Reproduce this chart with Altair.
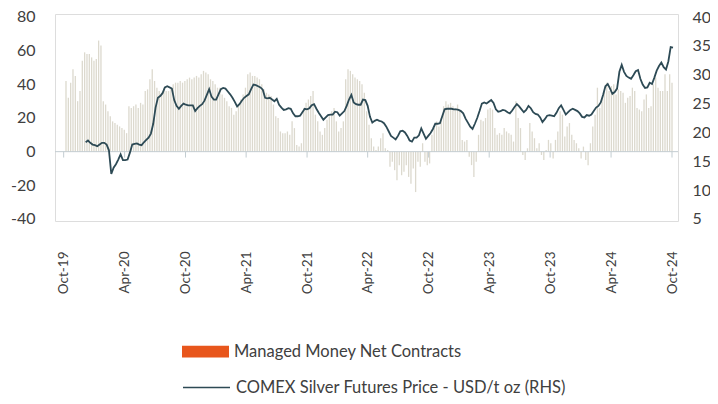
import altair as alt
import pandas as pd

# Managed money net positions (thousand contracts), weekly from 2019-10-08
net_contracts = [
    42, 32, 41, 49, 45, 30, 36, 54, 59, 58, 58, 56, 54, 55, 66, 63, 30, 28, 24, 21,
    18, 17, 16, 15, 14, 13, 11, 27, 26, 27, 28, 26, 29, 28, 36, 37, 43, 49, 42, 38,
    36, 35, 38, 36, 36, 38, 40, 41, 41, 42, 41, 42, 43, 44, 43, 44, 45, 44, 46, 48,
    47, 46, 43, 42, 40, 38, 38, 34, 32, 30, 27, 26, 22, 24, 28, 31, 34, 38, 46, 47,
    45, 45, 44, 43, 40, 37, 35, 34, 33, 28, 21, 20, 12, 11, 11, 12, 10, 18, 14, 4,
    3, 5, 26, 29, 31, 33, 36, 22, 18, 12, 10, 14, 19, 21, 24, 26, 18, 12, 14, 18,
    43, 49, 48, 46, 44, 43, 42, 40, 35, 24, 16, 8, 3, 1, 3, 8, 11, 2, 1, -9,
    -6, -11, -17, -8, -14, -12, -8, -15, -19, -10, -24, -6, -9, 5, -6, -8, -7, 10, 14, 18,
    15, 20, 27, 30, 28, 29, 27, 26, 28, 24, 7, 6, 7, -3, -8, -15, -6, 10, 19, 18,
    20, 25, 26, 25, 14, 10, 11, 10, 14, 12, 11, 10, 6, 30, 20, 14, -2, -5, 2, 17,
    12, 8, 2, 5, -2, -5, 1, 7, 5, -4, 7, 12, 24, 22, 9, 15, 17, 10, 7, 5,
    2, -4, 3, -5, -8, 5, 15, 22, 38, 26, 32, 36, 41, 36, 39, 40, 34, 37, 36, 35,
    29, 32, 33, 38, 36, 26, 25, 24, 31, 34, 26, 27, 40, 44, 38, 36, 36, 46, 36, 46,
    41,
]

# COMEX silver futures price (USD/oz), weekly from 2019-12-06
silver_price = [
    18.3, 18.6, 18.2, 17.9, 17.8, 17.6, 17.9, 18.2, 18.2, 17.9, 16.9, 12.8, 13.9, 14.5,
    15.3, 16.2, 15.2, 15.2, 15.3, 16.5, 17.9, 18.0, 18.1, 17.9, 17.8, 18.3, 18.7, 19.1,
    19.8, 21.5, 24.3, 26.0, 26.3, 26.8, 27.8, 28.0, 27.8, 27.6, 25.6, 24.6, 24.1, 24.6,
    25.0, 24.8, 24.7, 24.7, 24.7, 23.7, 24.2, 24.6, 24.9, 25.5, 26.5, 27.5, 26.2, 25.7,
    25.7, 26.6, 27.5, 27.7, 27.6, 27.1, 26.6, 26.0, 25.3, 24.5, 24.9, 25.5, 26.0, 26.3,
    26.6, 27.5, 28.3, 28.2, 28.0, 27.8, 27.4, 26.0, 25.9, 26.0, 25.7, 25.4, 25.8, 24.8,
    24.3, 23.9, 24.0, 24.2, 24.1, 23.3, 22.8, 22.8, 22.9, 23.5, 24.1, 24.0, 24.2, 24.7,
    24.9, 24.1, 23.4, 22.8, 22.2, 22.6, 23.0, 23.1, 23.1, 23.6, 23.5, 22.9, 23.3, 23.7,
    24.6, 25.7, 26.5, 25.2, 24.9, 24.8, 24.8, 25.7, 25.6, 24.6, 22.7, 21.7, 22.0, 22.2,
    22.0, 21.9, 21.6, 21.0, 20.2, 19.4, 19.1, 18.8, 19.4, 20.2, 20.3, 20.0, 19.4, 18.6,
    18.4, 19.1, 19.1, 19.5, 20.7, 19.8, 18.9, 19.4, 19.9, 20.6, 21.5, 21.5, 21.6, 22.8,
    24.0, 24.1, 24.1, 24.1, 24.0, 24.0, 23.9, 23.7, 23.3, 22.4, 21.7, 21.0, 20.6, 21.5,
    22.5, 23.7, 25.0, 25.2, 25.0, 25.3, 25.6, 25.1, 24.0, 23.6, 23.7, 23.9, 23.8, 23.5,
    23.3, 23.8, 24.4, 24.9, 24.5, 24.0, 23.5, 23.9, 24.6, 24.2, 23.5, 23.2, 23.1, 22.6,
    21.8, 22.3, 22.9, 23.0, 22.9, 22.8, 23.4, 24.2, 24.7, 23.9, 23.1, 23.5, 23.9, 24.1,
    23.9, 23.7, 23.3, 22.7, 22.6, 23.0, 22.9, 23.1, 23.7, 24.3, 24.6, 25.2, 26.5, 28.0,
    28.4, 27.6, 26.7, 27.0, 27.6, 30.5, 31.7, 30.5, 29.8, 29.5, 29.3, 29.9, 30.6, 30.8,
    29.3, 28.3, 27.7, 27.8, 28.6, 28.4, 29.5, 30.7, 31.5, 32.1, 31.3, 30.9, 32.3, 34.8,
    34.7,
]

tick_months = [(2019, 10), (2020, 4), (2020, 10), (2021, 4), (2021, 10), (2022, 4),
               (2022, 10), (2023, 4), (2023, 10), (2024, 4), (2024, 10)]
left_ticks = [-40, -20, 0, 20, 40, 60, 80]
right_ticks = [5, 10, 15, 20, 25, 30, 35, 40]
zero_level = [0]

BAR_NAME = "Managed Money Net Contracts"
LINE_NAME = "COMEX Silver Futures Price - USD/t oz (RHS)"

FONT = "Lato"
TEXT = "#404040"
GRID = "#c3cdd1"

bars_df = pd.DataFrame({
    "date": pd.date_range("2019-10-08", periods=len(net_contracts), freq="7D"),
    "net": net_contracts,
})
line_df = pd.DataFrame({
    "date": pd.date_range("2019-12-06", periods=len(silver_price), freq="7D"),
    "price": silver_price,
    "series": LINE_NAME,
})
tick_df = pd.DataFrame({"date": [pd.Timestamp(y, m, 1) for y, m in tick_months]})
zero_df = pd.DataFrame({"level": zero_level})
legend_df = pd.DataFrame({"series": [BAR_NAME]})

x_scale = alt.Scale(domain=[alt.DateTime(year=2019, month=9, date=20),
                            alt.DateTime(year=2024, month=10, date=4)], nice=False)
x_axis = alt.Axis(values=[alt.DateTime(year=y, month=m, date=1) for y, m in tick_months],
                  format="%b-%y", labelAngle=270, labelPadding=30, ticks=False, tickSize=0,
                  domain=False, grid=False, title=None, labelFontSize=13.5,
                  labelColor=TEXT, labelFont=FONT, labelOverlap=False)
y_left = alt.Scale(domain=[-41.19, 81.78], nice=False, zero=False)
y_right = alt.Scale(domain=[4.653, 40.52], nice=False, zero=False)
left_axis = alt.Axis(values=left_ticks, title=None, grid=False, domain=False,
                     ticks=False, tickSize=0, labelPadding=20, labelFontSize=16,
                     labelColor=TEXT, labelFont=FONT, labelOverlap=False,
                     labelExpr="replace(datum.label, '\u2212', '-')")

bars = alt.Chart(bars_df).mark_bar(width=1.3, color="#dcd9ce").encode(
    x=alt.X("date:T", scale=x_scale, axis=x_axis),
    y=alt.Y("net:Q", scale=y_left, axis=left_axis),
)

zero_line = alt.Chart(zero_df).mark_rule(color=GRID, strokeWidth=1).encode(
    y=alt.Y("level:Q", scale=y_left, axis=left_axis),
)

ticks = alt.Chart(tick_df).mark_rule(color=GRID, strokeWidth=1).encode(
    x=alt.X("date:T", scale=x_scale, axis=x_axis),
    y=alt.YDatum(0, scale=y_left, axis=left_axis),
    y2=alt.Y2Datum(-3.5),
)

legend_dummy = alt.Chart(legend_df).mark_point(shape="square", filled=True, size=0, opacity=1).encode(
    fill=alt.Fill("series:N", scale=alt.Scale(domain=[BAR_NAME], range=["#E8561C"]),
                  legend=alt.Legend(title=None, orient="none", legendX=127, legendY=314,
                                    symbolType="M-1,-0.25H1V0.25H-1Z", symbolSize=2209,
                                    symbolStrokeWidth=0, symbolOpacity=1, labelFontSize=16.5,
                                    labelFont=FONT, labelColor=TEXT, labelOffset=5,
                                    labelLimit=0, padding=0)),
)

left_group = alt.layer(bars, zero_line, ticks, legend_dummy)

line = alt.Chart(line_df).mark_line(strokeWidth=1.8, color="#2d4a55").encode(
    x=alt.X("date:T", scale=x_scale, axis=x_axis),
    y=alt.Y("price:Q", scale=y_right,
            axis=alt.Axis(orient="right", values=right_ticks, title=None, grid=False,
                          domain=False, ticks=False, tickSize=0, labelPadding=14,
                          labelFontSize=16, labelColor=TEXT, labelFont=FONT,
                          labelOverlap=False)),
    stroke=alt.Stroke("series:N", scale=alt.Scale(domain=[LINE_NAME], range=["#2d4a55"]),
                      legend=alt.Legend(title=None, orient="none", legendX=127, legendY=349,
                                        symbolType="stroke", symbolSize=2209,
                                        symbolStrokeWidth=1.5, labelFontSize=16.5,
                                        labelFont=FONT, labelColor=TEXT, labelOffset=5,
                                        labelLimit=0, padding=0)),
)

chart = alt.layer(left_group, line).resolve_scale(y="independent").properties(
    width=623, height=207,
    autosize=alt.AutoSizeParams(type="none"),
    padding={"left": 47, "top": 6, "right": 32, "bottom": 175},
).configure_view(fill="#f4f6f7", stroke=None).configure(background="white")

chart.save("out.html", embed_options={"renderer": "svg", "actions": False})
